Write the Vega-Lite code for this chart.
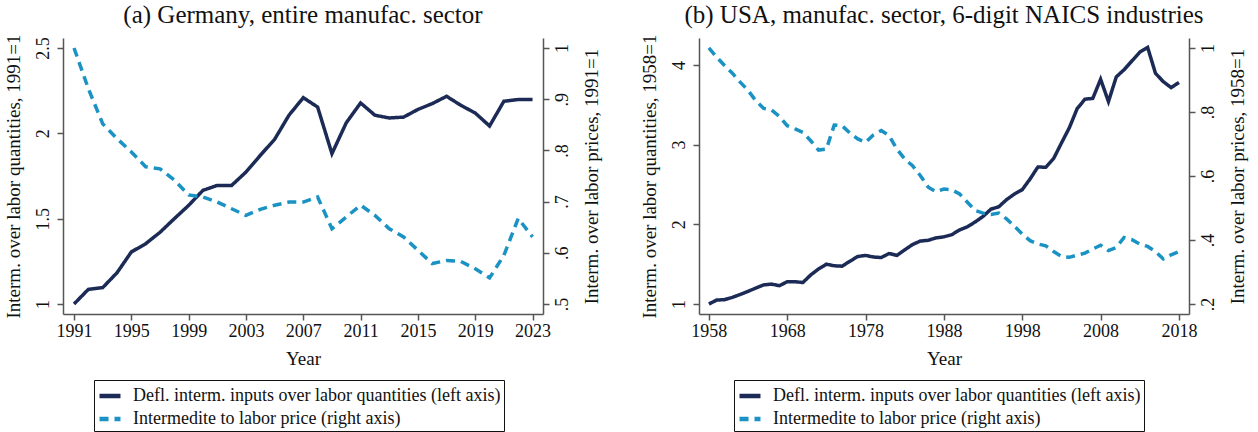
{
  "$schema": "https://vega.github.io/schema/vega-lite/v6.json",
  "background": "white",
  "padding": {"left": 3, "top": 2, "right": 5, "bottom": 0},
  "config": {
    "font": "Liberation Serif",
    "view": {"stroke": null},
    "axis": {"grid": false, "domainColor": "#555", "tickColor": "#555", "domainWidth": 1.5, "tickWidth": 1.5, "tickSize": 6, "labelColor": "#111", "titleColor": "#111", "labelFontSize": 18, "titleFontSize": 19, "titleFontWeight": "normal", "labelFont": "Liberation Serif", "titleFont": "Liberation Serif"},
    "title": {"font": "Liberation Serif", "fontSize": 25, "fontWeight": "normal", "anchor": "middle", "color": "#111", "offset": 6},
    "legend": {"labelFont": "Liberation Serif"}
  },
  "datasets": {
    "de": [
      {"year":1991,"s":"q","v":1.0},{"year":1992,"s":"q","v":1.086},{"year":1993,"s":"q","v":1.096},{"year":1994,"s":"q","v":1.183},{"year":1995,"s":"q","v":1.305},{"year":1996,"s":"q","v":1.353},{"year":1997,"s":"q","v":1.42},{"year":1998,"s":"q","v":1.5},{"year":1999,"s":"q","v":1.578},{"year":2000,"s":"q","v":1.666},{"year":2001,"s":"q","v":1.695},{"year":2002,"s":"q","v":1.695},{"year":2003,"s":"q","v":1.773},{"year":2004,"s":"q","v":1.871},{"year":2005,"s":"q","v":1.965},{"year":2006,"s":"q","v":2.106},{"year":2007,"s":"q","v":2.209},{"year":2008,"s":"q","v":2.154},{"year":2009,"s":"q","v":1.881},{"year":2010,"s":"q","v":2.062},{"year":2011,"s":"q","v":2.178},{"year":2012,"s":"q","v":2.106},{"year":2013,"s":"q","v":2.09},{"year":2014,"s":"q","v":2.095},{"year":2015,"s":"q","v":2.14},{"year":2016,"s":"q","v":2.174},{"year":2017,"s":"q","v":2.217},{"year":2018,"s":"q","v":2.164},{"year":2019,"s":"q","v":2.119},{"year":2020,"s":"q","v":2.043},{"year":2021,"s":"q","v":2.188},{"year":2022,"s":"q","v":2.198},{"year":2023,"s":"q","v":2.198},
      {"year":1991,"s":"p","v":1.0},{"year":1992,"s":"p","v":0.9205},{"year":1993,"s":"p","v":0.852},{"year":1994,"s":"p","v":0.823},{"year":1995,"s":"p","v":0.797},{"year":1996,"s":"p","v":0.768},{"year":1997,"s":"p","v":0.764},{"year":1998,"s":"p","v":0.742},{"year":1999,"s":"p","v":0.713},{"year":2000,"s":"p","v":0.709},{"year":2001,"s":"p","v":0.699},{"year":2002,"s":"p","v":0.686},{"year":2003,"s":"p","v":0.673},{"year":2004,"s":"p","v":0.685},{"year":2005,"s":"p","v":0.693},{"year":2006,"s":"p","v":0.699},{"year":2007,"s":"p","v":0.699},{"year":2008,"s":"p","v":0.709},{"year":2009,"s":"p","v":0.647},{"year":2010,"s":"p","v":0.67},{"year":2011,"s":"p","v":0.693},{"year":2012,"s":"p","v":0.673},{"year":2013,"s":"p","v":0.647},{"year":2014,"s":"p","v":0.631},{"year":2015,"s":"p","v":0.605},{"year":2016,"s":"p","v":0.579},{"year":2017,"s":"p","v":0.585},{"year":2018,"s":"p","v":0.583},{"year":2019,"s":"p","v":0.569},{"year":2020,"s":"p","v":0.551},{"year":2021,"s":"p","v":0.595},{"year":2022,"s":"p","v":0.667},{"year":2023,"s":"p","v":0.631}
    ],
    "us": [
      {"year":1958,"s":"q","v":1.0},{"year":1959,"s":"q","v":1.05},{"year":1960,"s":"q","v":1.055},{"year":1961,"s":"q","v":1.084},{"year":1962,"s":"q","v":1.12},{"year":1963,"s":"q","v":1.16},{"year":1964,"s":"q","v":1.2},{"year":1965,"s":"q","v":1.24},{"year":1966,"s":"q","v":1.25},{"year":1967,"s":"q","v":1.23},{"year":1968,"s":"q","v":1.28},{"year":1969,"s":"q","v":1.28},{"year":1970,"s":"q","v":1.27},{"year":1971,"s":"q","v":1.365},{"year":1972,"s":"q","v":1.44},{"year":1973,"s":"q","v":1.5},{"year":1974,"s":"q","v":1.48},{"year":1975,"s":"q","v":1.475},{"year":1976,"s":"q","v":1.537},{"year":1977,"s":"q","v":1.596},{"year":1978,"s":"q","v":1.61},{"year":1979,"s":"q","v":1.59},{"year":1980,"s":"q","v":1.583},{"year":1981,"s":"q","v":1.634},{"year":1982,"s":"q","v":1.61},{"year":1983,"s":"q","v":1.68},{"year":1984,"s":"q","v":1.747},{"year":1985,"s":"q","v":1.79},{"year":1986,"s":"q","v":1.8},{"year":1987,"s":"q","v":1.83},{"year":1988,"s":"q","v":1.843},{"year":1989,"s":"q","v":1.87},{"year":1990,"s":"q","v":1.93},{"year":1991,"s":"q","v":1.97},{"year":1992,"s":"q","v":2.03},{"year":1993,"s":"q","v":2.1},{"year":1994,"s":"q","v":2.19},{"year":1995,"s":"q","v":2.22},{"year":1996,"s":"q","v":2.31},{"year":1997,"s":"q","v":2.38},{"year":1998,"s":"q","v":2.435},{"year":1999,"s":"q","v":2.57},{"year":2000,"s":"q","v":2.72},{"year":2001,"s":"q","v":2.715},{"year":2002,"s":"q","v":2.825},{"year":2003,"s":"q","v":3.02},{"year":2004,"s":"q","v":3.21},{"year":2005,"s":"q","v":3.45},{"year":2006,"s":"q","v":3.57},{"year":2007,"s":"q","v":3.58},{"year":2008,"s":"q","v":3.82},{"year":2009,"s":"q","v":3.54},{"year":2010,"s":"q","v":3.85},{"year":2011,"s":"q","v":3.94},{"year":2012,"s":"q","v":4.05},{"year":2013,"s":"q","v":4.16},{"year":2014,"s":"q","v":4.22},{"year":2015,"s":"q","v":3.895},{"year":2016,"s":"q","v":3.79},{"year":2017,"s":"q","v":3.715},{"year":2018,"s":"q","v":3.78},
      {"year":1958,"s":"p","v":1.0},{"year":1959,"s":"p","v":0.971},{"year":1960,"s":"p","v":0.945},{"year":1961,"s":"p","v":0.921},{"year":1962,"s":"p","v":0.893},{"year":1963,"s":"p","v":0.867},{"year":1964,"s":"p","v":0.835},{"year":1965,"s":"p","v":0.811},{"year":1966,"s":"p","v":0.806},{"year":1967,"s":"p","v":0.786},{"year":1968,"s":"p","v":0.757},{"year":1969,"s":"p","v":0.747},{"year":1970,"s":"p","v":0.736},{"year":1971,"s":"p","v":0.71},{"year":1972,"s":"p","v":0.681},{"year":1973,"s":"p","v":0.684},{"year":1974,"s":"p","v":0.759},{"year":1975,"s":"p","v":0.757},{"year":1976,"s":"p","v":0.734},{"year":1977,"s":"p","v":0.716},{"year":1978,"s":"p","v":0.705},{"year":1979,"s":"p","v":0.728},{"year":1980,"s":"p","v":0.742},{"year":1981,"s":"p","v":0.726},{"year":1982,"s":"p","v":0.684},{"year":1983,"s":"p","v":0.653},{"year":1984,"s":"p","v":0.632},{"year":1985,"s":"p","v":0.601},{"year":1986,"s":"p","v":0.565},{"year":1987,"s":"p","v":0.551},{"year":1988,"s":"p","v":0.559},{"year":1989,"s":"p","v":0.557},{"year":1990,"s":"p","v":0.544},{"year":1991,"s":"p","v":0.518},{"year":1992,"s":"p","v":0.492},{"year":1993,"s":"p","v":0.484},{"year":1994,"s":"p","v":0.48},{"year":1995,"s":"p","v":0.484},{"year":1996,"s":"p","v":0.466},{"year":1997,"s":"p","v":0.443},{"year":1998,"s":"p","v":0.419},{"year":1999,"s":"p","v":0.398},{"year":2000,"s":"p","v":0.3875},{"year":2001,"s":"p","v":0.382},{"year":2002,"s":"p","v":0.364},{"year":2003,"s":"p","v":0.349},{"year":2004,"s":"p","v":0.346},{"year":2005,"s":"p","v":0.353},{"year":2006,"s":"p","v":0.359},{"year":2007,"s":"p","v":0.372},{"year":2008,"s":"p","v":0.384},{"year":2009,"s":"p","v":0.367},{"year":2010,"s":"p","v":0.377},{"year":2011,"s":"p","v":0.408},{"year":2012,"s":"p","v":0.401},{"year":2013,"s":"p","v":0.3875},{"year":2014,"s":"p","v":0.38},{"year":2015,"s":"p","v":0.364},{"year":2016,"s":"p","v":0.341},{"year":2017,"s":"p","v":0.354},{"year":2018,"s":"p","v":0.364}
    ]
  },
  "hconcat": [
    {
      "title": "(a) Germany, entire manufac. sector",
      "width": 480,
      "height": 276,
      "data": {"name": "de"},
      "encoding": {
        "x": {"field": "year", "type": "quantitative", "scale": {"domain": [1990.23, 2023.73], "nice": false, "zero": false},
          "axis": {"title": "Year", "values": [1991,1995,1999,2003,2007,2011,2015,2019,2023], "format": "d", "labelPadding": 2, "titlePadding": 9}},
        "color": {"field": "s", "type": "nominal", "scale": {"domain": ["q","p"], "range": ["#1c2b55","#1a93c4"]},
          "legend": {"orient": "none", "legendX": 31, "legendY": 342, "title": null, "direction": "vertical", "symbolType": "stroke", "symbolStrokeWidth": 4.5, "symbolSize": 440, "labelFontSize": 18, "labelLimit": 0, "labelColor": "#111", "strokeColor": "#111", "padding": 3, "rowPadding": 1, "labelOffset": 10,
            "labelExpr": "datum.value == 'q' ? 'Defl. interm. inputs over labor quantities (left axis)' : 'Intermedite to labor price (right axis)'"}},
        "strokeDash": {"field": "s", "type": "nominal", "scale": {"domain": ["q","p"], "range": [[1,0],[9,6]]}, "legend": null}
      },
      "layer": [
        {
          "transform": [{"filter": "datum.s == 'q'"}],
          "mark": {"type": "line", "strokeWidth": 3.5},
          "encoding": {"y": {"field": "v", "type": "quantitative", "scale": {"domain": [0.9414, 2.5586], "nice": false, "zero": false},
            "axis": {"title": "Interm. over labor quantities, 1991=1", "values": [1, 1.5, 2, 2.5], "format": "~g", "labelAngle": 270, "labelAlign": "center", "labelBaseline": "bottom", "labelPadding": 5, "titlePadding": 11}}}
        },
        {
          "transform": [{"filter": "datum.s == 'p'"}],
          "mark": {"type": "line", "strokeWidth": 3.5},
          "encoding": {"y": {"field": "v", "type": "quantitative", "scale": {"domain": [0.4805, 1.0195], "nice": false, "zero": false},
            "axis": {"orient": "right", "title": "Interm. over labor prices, 1991=1", "values": [0.5, 0.6, 0.7, 0.8, 0.9, 1], "labelExpr": "datum.value >= 1 ? '1' : replace(format(datum.value, '.1f'), '0.', '.')", "labelAngle": 270, "labelAlign": "center", "labelBaseline": "top", "labelPadding": 4, "titleAngle": 270, "titleBaseline": "top", "titlePadding": 11}}}
        }
      ],
      "resolve": {"scale": {"y": "independent"}}
    },
    {
      "title": "(b) USA, manufac. sector, 6-digit NAICS industries",
      "width": 490,
      "height": 276,
      "data": {"name": "us"},
      "encoding": {
        "x": {"field": "year", "type": "quantitative", "scale": {"domain": [1956.74, 2019.28], "nice": false, "zero": false},
          "axis": {"title": "Year", "values": [1958,1968,1978,1988,1998,2008,2018], "format": "d", "labelPadding": 2, "titlePadding": 9}},
        "color": {"field": "s", "type": "nominal", "scale": {"domain": ["q","p"], "range": ["#1c2b55","#1a93c4"]},
          "legend": {"orient": "none", "legendX": 35, "legendY": 342, "title": null, "direction": "vertical", "symbolType": "stroke", "symbolStrokeWidth": 4.5, "symbolSize": 440, "labelFontSize": 18, "labelLimit": 0, "labelColor": "#111", "strokeColor": "#111", "padding": 3, "rowPadding": 1, "labelOffset": 10,
            "labelExpr": "datum.value == 'q' ? 'Defl. interm. inputs over labor quantities (left axis)' : 'Intermedite to labor price (right axis)'"}},
        "strokeDash": {"field": "s", "type": "nominal", "scale": {"domain": ["q","p"], "range": [[1,0],[9,6]]}, "legend": null}
      },
      "layer": [
        {
          "transform": [{"filter": "datum.s == 'q'"}],
          "mark": {"type": "line", "strokeWidth": 3.5},
          "encoding": {"y": {"field": "v", "type": "quantitative", "scale": {"domain": [0.875, 4.3375], "nice": false, "zero": false},
            "axis": {"title": "Interm. over labor quantities, 1958=1", "values": [1, 2, 3, 4], "format": "~g", "labelAngle": 270, "labelAlign": "center", "labelBaseline": "bottom", "labelPadding": 5, "titlePadding": 11}}}
        },
        {
          "transform": [{"filter": "datum.s == 'p'"}],
          "mark": {"type": "line", "strokeWidth": 3.5},
          "encoding": {"y": {"field": "v", "type": "quantitative", "scale": {"domain": [0.169, 1.031], "nice": false, "zero": false},
            "axis": {"orient": "right", "title": "Interm. over labor prices, 1958=1", "values": [0.2, 0.4, 0.6, 0.8, 1], "labelExpr": "datum.value >= 1 ? '1' : replace(format(datum.value, '.1f'), '0.', '.')", "labelAngle": 270, "labelAlign": "center", "labelBaseline": "top", "labelPadding": 4, "titleAngle": 270, "titleBaseline": "top", "titlePadding": 11}}}
        }
      ],
      "resolve": {"scale": {"y": "independent"}}
    }
  ],
  "spacing": 156,
  "bounds": "flush",
  "resolve": {"scale": {"color": "independent", "strokeDash": "independent", "x": "independent", "y": "independent"}, "legend": {"color": "independent", "strokeDash": "independent"}}
}
